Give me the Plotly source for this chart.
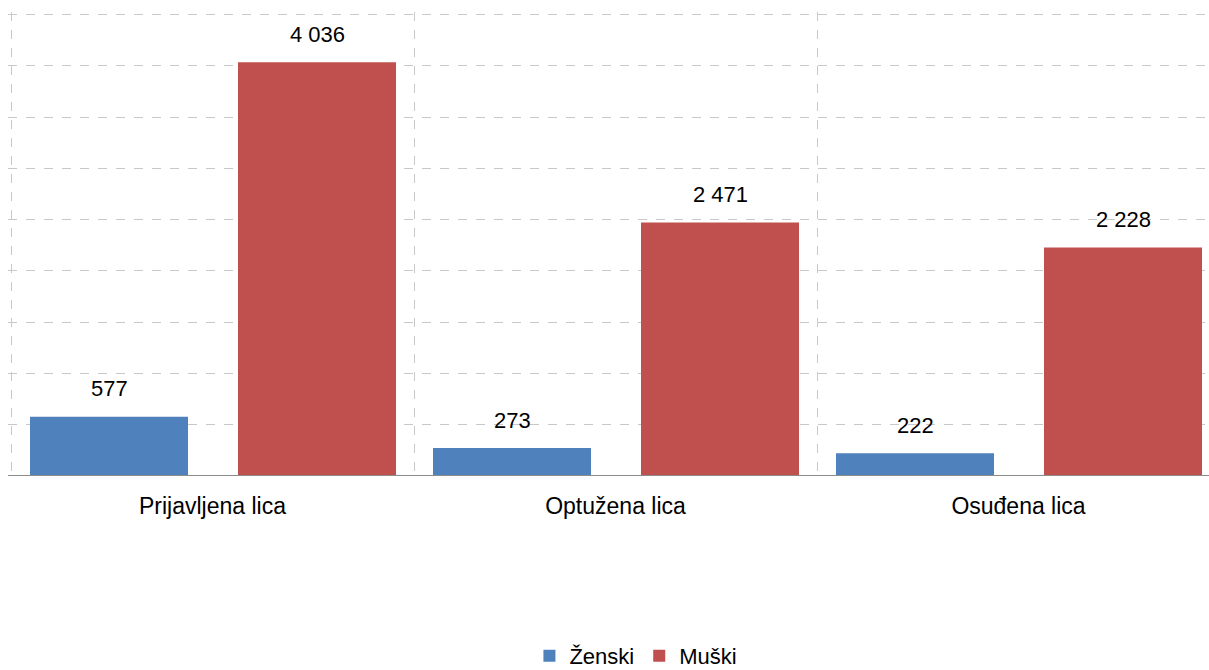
import plotly.graph_objects as go

categories = ["Prijavljena lica", "Optužena lica", "Osuđena lica"]
zenski = [577, 273, 222]
muski = [4036, 2471, 2228]
series_names = ["Ženski", "Muški"]
colors = ["#4F81BD", "#C0504D"]

def fmt(v):
    return f"{v:,}".replace(",", " ")

FONT = "Liberation Sans, Arial, sans-serif"
x_pos = list(range(len(categories)))
cat_w = 403.0
bar_w = 158 / cat_w
offsets = [-182.5 / cat_w, 25.5 / cat_w]

fig = go.Figure()
for name, vals, col, off in zip(series_names, [zenski, muski], colors, offsets):
    fig.add_trace(go.Bar(
        x=x_pos, y=vals, name=name, marker=dict(color=col, line=dict(width=0)),
        width=bar_w, offset=off, hoverinfo="skip",
    ))
    for xi, v in zip(x_pos, vals):
        fig.add_annotation(x=xi + off + bar_w / 2, y=v, text=fmt(v), showarrow=False,
                           yshift=28, font=dict(size=22, color="#000000", family=FONT))

left_px = 8
x_start = -0.5 - 3 / cat_w
x_end = x_start + (1209 - left_px) / cat_w

fig.update_layout(
    width=1209, height=670,
    margin=dict(l=left_px, r=0, t=12, b=194),
    paper_bgcolor="white", plot_bgcolor="white",
    barmode="overlay",
    font=dict(family=FONT, size=22, color="#000000"),
    showlegend=True,
    legend=dict(orientation="h", xref="container", yref="container", x=0.526, y=0.021,
                xanchor="center", yanchor="middle", font=dict(size=22, family=FONT),
                itemwidth=30, tracegroupgap=0),
)
fig.update_xaxes(
    range=[x_start, x_end], tickmode="array", tickvals=x_pos, ticktext=categories,
    showgrid=False, zeroline=False, showline=False,
    ticks="outside", ticklen=9, tickcolor="rgba(0,0,0,0)",
    tickfont=dict(size=23, family=FONT),
    minor=dict(tickmode="array", tickvals=[-0.5, 0.5, 1.5, 2.5], showgrid=True,
               gridcolor="#C8C8C8", griddash="dash", gridwidth=1, ticks=""),
)
fig.update_yaxes(
    range=[0, 4525], dtick=500, tick0=0, showticklabels=False,
    showgrid=True, gridcolor="#C8C8C8", griddash="dash", gridwidth=1,
    zeroline=False, showline=False,
)
fig.add_hline(y=0, line=dict(color="#8C8C8C", width=2))

fig.write_html("out.html", config={"displayModeBar": False},
               post_script="document.body.style.margin='0';document.body.style.overflow='hidden';")
